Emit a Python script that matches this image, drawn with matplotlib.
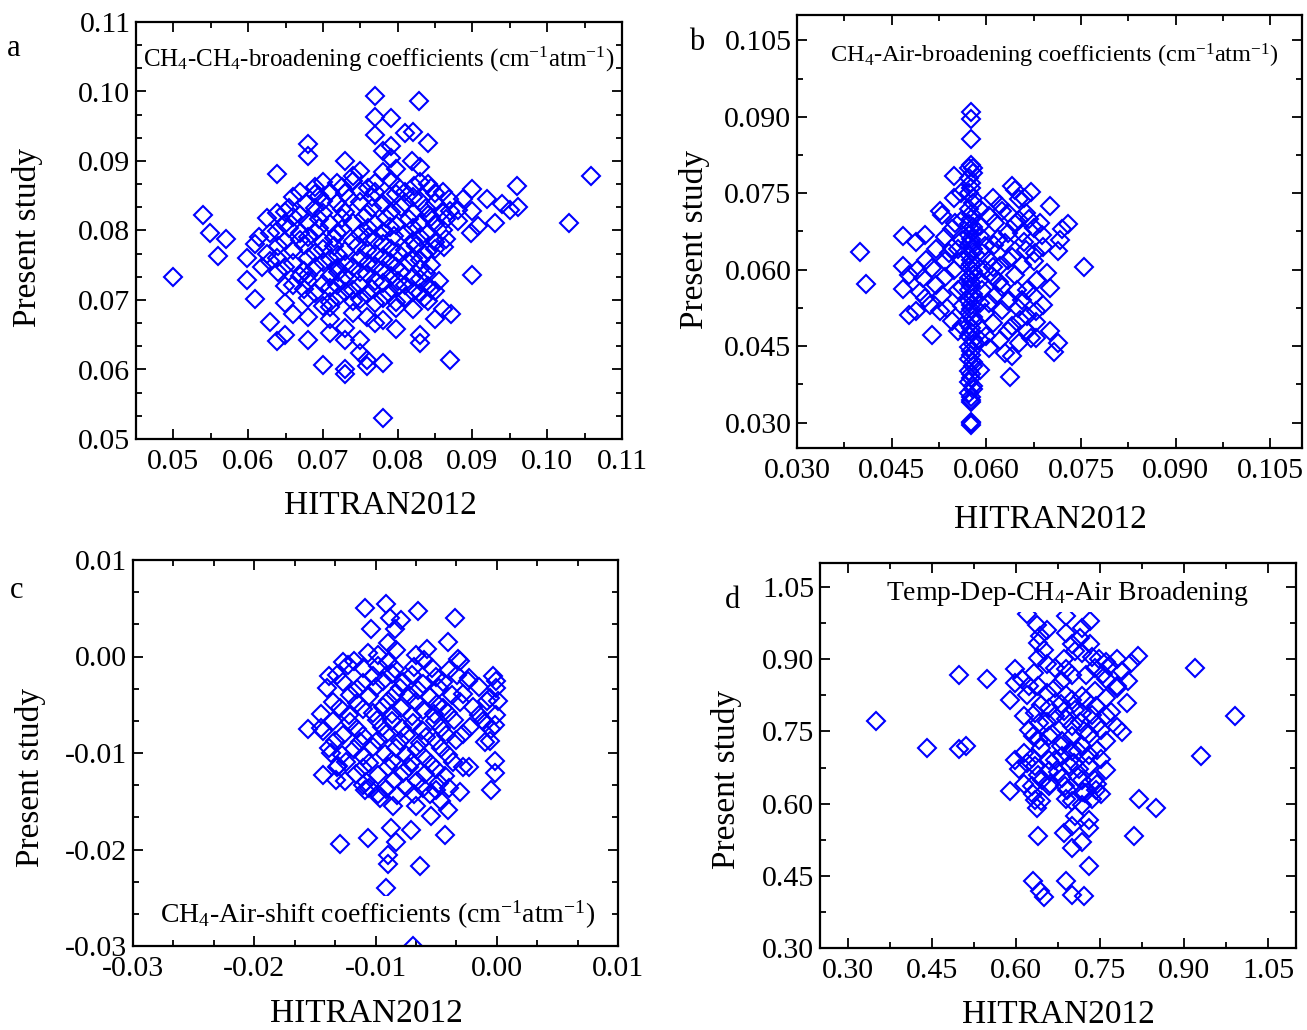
import matplotlib
matplotlib.use("Agg")
import matplotlib.pyplot as plt
from matplotlib.ticker import MultipleLocator, FormatStrFormatter

plt.rcParams['font.family'] = ['Liberation Serif', 'DejaVu Serif']
plt.rcParams['mathtext.fontset'] = 'custom'
plt.rcParams['mathtext.rm'] = 'Liberation Serif'
plt.rcParams['mathtext.it'] = 'Liberation Serif:italic'
plt.rcParams['axes.unicode_minus'] = False

# ---------------- data ----------------
# a: CH4-CH4 broadening, HITRAN2012 vs present study
a_x = [0.0770, 0.0829, 0.0770, 0.0791, 0.0770, 0.0810, 0.0820, 0.0840, 0.0680, 0.0680,
       0.0791, 0.0781, 0.0791, 0.0730, 0.0819, 0.0830, 0.0639, 0.0749, 0.0781, 0.0798,
       0.0740, 0.1059, 0.0959, 0.0899, 0.0919, 0.0888, 0.0939, 0.0950, 0.0961, 0.0899,
       0.0870, 0.0930, 0.0908, 0.0898, 0.0881, 0.1029, 0.0539, 0.0549, 0.0571, 0.0560,
       0.0500, 0.0609, 0.0599, 0.0599, 0.0609, 0.0619, 0.0629, 0.0629, 0.0638, 0.0649,
       0.0680, 0.0680, 0.0660, 0.0649, 0.0649, 0.0700, 0.0730, 0.0730, 0.0759, 0.0759,
       0.0780, 0.0780, 0.0870, 0.0899, 0.0830, 0.0830, 0.0850, 0.0861, 0.0871, 0.0850,
       0.0798, 0.0749, 0.0749, 0.0730, 0.0709, 0.0730, 0.0709, 0.0770, 0.0780, 0.0820,
       0.0798, 0.0759, 0.0740, 0.0700, 0.0709,
       0.0700, 0.0719, 0.0740, 0.0770, 0.0791, 0.0830, 0.0840,
       0.0669, 0.0689, 0.0709, 0.0730, 0.0749, 0.0770, 0.0798, 0.0810, 0.0850, 0.0861,
       0.0677, 0.0700, 0.0719, 0.0749, 0.0780, 0.0810, 0.0830, 0.0850,
       0.0638, 0.0649, 0.0669, 0.0700, 0.0730, 0.0759, 0.0791, 0.0820, 0.0840, 0.0859,
       0.0649, 0.0680, 0.0709, 0.0740, 0.0770, 0.0798, 0.0830, 0.0850,
       0.0629, 0.0639, 0.0669, 0.0689, 0.0719, 0.0749, 0.0780, 0.0810, 0.0840,
       0.0649, 0.0669, 0.0700, 0.0740, 0.0770, 0.0820, 0.0850,
       0.0660, 0.0700, 0.0730, 0.0759, 0.0791, 0.0810, 0.0840, 0.0850,
       0.0639, 0.0680, 0.0709, 0.0749, 0.0780, 0.0820, 0.0830,
       0.0649, 0.0689, 0.0719, 0.0740, 0.0770, 0.0798, 0.0830,
       0.0669, 0.0680, 0.0709, 0.0730, 0.0759, 0.0791, 0.0820,
       0.0660, 0.0700, 0.0719, 0.0749, 0.0780, 0.0810, 0.0840,
       0.0689, 0.0730, 0.0759, 0.0789, 0.0820, 0.0830,
       0.0709, 0.0740, 0.0770, 0.0798, 0.0840,
       0.0690, 0.0725, 0.0760, 0.0800, 0.0822, 0.0845,
       0.0660, 0.0695, 0.0735, 0.0765, 0.0790, 0.0820, 0.0868,
       0.0655, 0.0690, 0.0725, 0.0765, 0.0805, 0.0838, 0.0880,
       0.0625, 0.0660, 0.0695, 0.0725, 0.0755, 0.0785, 0.0815, 0.0845, 0.0865,
       0.0655, 0.0695, 0.0725, 0.0760, 0.0790, 0.0820, 0.0860,
       0.0615, 0.0680, 0.0715, 0.0760, 0.0795, 0.0830, 0.0865,
       0.0640, 0.0675, 0.0715, 0.0745, 0.0780, 0.0825, 0.0862,
       0.0625, 0.0690, 0.0720, 0.0770, 0.0800, 0.0835,
       0.0660, 0.0700, 0.0730, 0.0760, 0.0790, 0.0815, 0.0845,
       0.0640, 0.0675, 0.0720, 0.0750, 0.0780, 0.0805, 0.0838,
       0.0680, 0.0725, 0.0770, 0.0800, 0.0830, 0.0855,
       0.0675, 0.0710, 0.0740, 0.0765, 0.0800, 0.0845,
       0.0680, 0.0720, 0.0750, 0.0780, 0.0810, 0.0835]
a_y = [0.0994, 0.0986, 0.0964, 0.0962, 0.0938, 0.0941, 0.0942, 0.0926, 0.0925, 0.0907,
       0.0922, 0.0915, 0.0905, 0.0900, 0.0900, 0.0892, 0.0882, 0.0886, 0.0884, 0.0888,
       0.0879, 0.0879, 0.0864, 0.0860, 0.0845, 0.0845, 0.0838, 0.0830, 0.0834, 0.0828,
       0.0828, 0.0811, 0.0807, 0.0797, 0.0814, 0.0811, 0.0822, 0.0797, 0.0788, 0.0764,
       0.0733, 0.0781, 0.0760, 0.0729, 0.0702, 0.0747, 0.0756, 0.0669, 0.0641, 0.0649,
       0.0643, 0.0676, 0.0680, 0.0696, 0.0720, 0.0607, 0.0600, 0.0593, 0.0613, 0.0605,
       0.0609, 0.0530, 0.0614, 0.0736, 0.0649, 0.0638, 0.0672, 0.0687, 0.0680, 0.0713,
       0.0658, 0.0624, 0.0643, 0.0643, 0.0653, 0.0660, 0.0672, 0.0667, 0.0671, 0.0687,
       0.0688, 0.0676, 0.0682, 0.0691, 0.0690,
       0.0870, 0.0868, 0.0871, 0.0869, 0.0872, 0.0870, 0.0867,
       0.0855, 0.0853, 0.0856, 0.0854, 0.0857, 0.0855, 0.0853, 0.0856, 0.0854, 0.0855,
       0.0840, 0.0842, 0.0839, 0.0841, 0.0838, 0.0840, 0.0842, 0.0839,
       0.0825, 0.0826, 0.0823, 0.0825, 0.0827, 0.0824, 0.0826, 0.0825, 0.0823, 0.0826,
       0.0810, 0.0812, 0.0809, 0.0811, 0.0810, 0.0808, 0.0811, 0.0810,
       0.0797, 0.0799, 0.0796, 0.0798, 0.0797, 0.0795, 0.0798, 0.0797, 0.0796,
       0.0785, 0.0786, 0.0784, 0.0785, 0.0787, 0.0785, 0.0783,
       0.0772, 0.0773, 0.0771, 0.0772, 0.0774, 0.0772, 0.0770, 0.0773,
       0.0760, 0.0761, 0.0759, 0.0760, 0.0762, 0.0760, 0.0758,
       0.0747, 0.0748, 0.0746, 0.0747, 0.0749, 0.0747, 0.0745,
       0.0735, 0.0736, 0.0734, 0.0735, 0.0737, 0.0735, 0.0733,
       0.0722, 0.0723, 0.0721, 0.0722, 0.0724, 0.0722, 0.0720,
       0.0710, 0.0711, 0.0709, 0.0710, 0.0712, 0.0710,
       0.0697, 0.0698, 0.0696, 0.0697, 0.0699,
       0.0862, 0.0863, 0.0861, 0.0862, 0.0864, 0.0861,
       0.0848, 0.0849, 0.0847, 0.0848, 0.0850, 0.0848, 0.0846,
       0.0832, 0.0833, 0.0831, 0.0832, 0.0834, 0.0832, 0.0830,
       0.0818, 0.0819, 0.0817, 0.0818, 0.0820, 0.0818, 0.0816, 0.0819, 0.0817,
       0.0803, 0.0804, 0.0802, 0.0803, 0.0805, 0.0803, 0.0801,
       0.0790, 0.0791, 0.0789, 0.0790, 0.0792, 0.0790, 0.0788,
       0.0778, 0.0779, 0.0777, 0.0778, 0.0780, 0.0778, 0.0776,
       0.0766, 0.0767, 0.0765, 0.0766, 0.0768, 0.0766,
       0.0753, 0.0754, 0.0752, 0.0753, 0.0755, 0.0753, 0.0751,
       0.0741, 0.0742, 0.0740, 0.0741, 0.0743, 0.0741, 0.0739,
       0.0728, 0.0729, 0.0727, 0.0728, 0.0730, 0.0728,
       0.0716, 0.0717, 0.0715, 0.0716, 0.0718, 0.0716,
       0.0703, 0.0704, 0.0702, 0.0703, 0.0705, 0.0703]

# b: CH4-Air broadening
b_x = [0.0576, 0.0576, 0.0576, 0.0576, 0.0573, 0.0579, 0.0576, 0.0573, 0.0579, 0.0576,
       0.0573, 0.0579, 0.0576, 0.0573, 0.0579, 0.0576, 0.0573, 0.0579, 0.0576, 0.0573,
       0.0579, 0.0576, 0.0573, 0.0579, 0.0576, 0.0573, 0.0579, 0.0576, 0.0573, 0.0579,
       0.0576, 0.0573, 0.0579, 0.0576, 0.0576, 0.0576, 0.0576,
       0.0579, 0.0573, 0.0576, 0.0579, 0.0573, 0.0576, 0.0579, 0.0573, 0.0576, 0.0579,
       0.0573, 0.0576, 0.0579, 0.0573, 0.0576, 0.0579, 0.0573, 0.0576, 0.0579, 0.0573,
       0.0576, 0.0579, 0.0573, 0.0576, 0.0579, 0.0573, 0.0576, 0.0579, 0.0573, 0.0576,
       0.0576,
       0.0400, 0.0410, 0.0468, 0.0488, 0.0502, 0.0468, 0.0478, 0.0468, 0.0477, 0.0489,
       0.0499, 0.0514, 0.0495, 0.0503, 0.0514, 0.0527, 0.0538, 0.0530, 0.0527, 0.0530,
       0.0548, 0.0548, 0.0551, 0.0546, 0.0548, 0.0540, 0.0535,
       0.0604, 0.0614, 0.0622, 0.0635, 0.0640, 0.0646, 0.0671, 0.0651, 0.0662, 0.0651,
       0.0635, 0.0612, 0.0630, 0.0656, 0.0675, 0.0685, 0.0688, 0.0677, 0.0663, 0.0656,
       0.0696, 0.0713, 0.0717, 0.0730, 0.0754, 0.0598, 0.0609, 0.0625, 0.0649, 0.0635,
       0.0656, 0.0675, 0.0625, 0.0598, 0.0678, 0.0654, 0.0678, 0.0664, 0.0635, 0.0678,
       0.0622, 0.0651, 0.0604, 0.0630, 0.0641, 0.0714, 0.0707, 0.0638, 0.0598, 0.0604,
       0.0622, 0.0635, 0.0593, 0.0604, 0.0593, 0.0590, 0.0593,
       0.0562, 0.0562, 0.0562, 0.0562, 0.0562, 0.0562,
       0.0590, 0.0590, 0.0590, 0.0590, 0.0590,
       0.0618, 0.0645, 0.0668, 0.0625, 0.0660, 0.0690, 0.0640, 0.0675, 0.0610, 0.0645,
       0.0680, 0.0620, 0.0665, 0.0700, 0.0615, 0.0650, 0.0690, 0.0610, 0.0665, 0.0600,
       0.0640, 0.0670, 0.0700, 0.0660, 0.0700, 0.0720, 0.0610, 0.0590,
       0.0520, 0.0505, 0.0535, 0.0555, 0.0520, 0.0555, 0.0545, 0.0560, 0.0535, 0.0490,
       0.0510, 0.0545, 0.0555]
b_y = [0.0909, 0.0895, 0.0857, 0.0806, 0.0800, 0.0790, 0.0770, 0.0750, 0.0730, 0.0710,
       0.0690, 0.0675, 0.0660, 0.0648, 0.0635, 0.0620, 0.0605, 0.0590, 0.0575, 0.0560,
       0.0545, 0.0530, 0.0515, 0.0500, 0.0485, 0.0470, 0.0455, 0.0440, 0.0425, 0.0410,
       0.0395, 0.0380, 0.0365, 0.0350, 0.0340, 0.0300, 0.0295,
       0.0800, 0.0780, 0.0760, 0.0740, 0.0720, 0.0700, 0.0683, 0.0668, 0.0654, 0.0641,
       0.0628, 0.0612, 0.0598, 0.0583, 0.0568, 0.0552, 0.0538, 0.0522, 0.0508, 0.0492,
       0.0478, 0.0462, 0.0448, 0.0432, 0.0418, 0.0402, 0.0388, 0.0372, 0.0358, 0.0345,
       0.0302,
       0.0634, 0.0571, 0.0667, 0.0654, 0.0669, 0.0607, 0.0590, 0.0562, 0.0512, 0.0518,
       0.0584, 0.0603, 0.0557, 0.0544, 0.0472, 0.0518, 0.0525, 0.0551, 0.0715, 0.0708,
       0.0783, 0.0741, 0.0692, 0.0643, 0.0600, 0.0633, 0.0618,
       0.0705, 0.0692, 0.0728, 0.0711, 0.0764, 0.0757, 0.0752, 0.0738, 0.0711, 0.0698,
       0.0672, 0.0649, 0.0652, 0.0672, 0.0682, 0.0692, 0.0669, 0.0633, 0.0639, 0.0610,
       0.0593, 0.0636, 0.0659, 0.0690, 0.0605, 0.0600, 0.0587, 0.0567, 0.0561, 0.0538,
       0.0541, 0.0548, 0.0521, 0.0515, 0.0518, 0.0502, 0.0498, 0.0479, 0.0479, 0.0466,
       0.0462, 0.0456, 0.0446, 0.0436, 0.0430, 0.0457, 0.0438, 0.0389, 0.0646, 0.0620,
       0.0607, 0.0620, 0.0561, 0.0534, 0.0482, 0.0685, 0.0633,
       0.0698, 0.0659, 0.0620, 0.0567, 0.0528, 0.0489,
       0.0666, 0.0580, 0.0534, 0.0462, 0.0403,
       0.0660, 0.0690, 0.0700, 0.0715, 0.0655, 0.0645, 0.0625, 0.0618, 0.0605, 0.0590,
       0.0580, 0.0575, 0.0560, 0.0565, 0.0550, 0.0525, 0.0530, 0.0495, 0.0510, 0.0470,
       0.0490, 0.0465, 0.0480, 0.0740, 0.0725, 0.0680, 0.0740, 0.0720,
       0.0640, 0.0620, 0.0585, 0.0560, 0.0570, 0.0640, 0.0680, 0.0750, 0.0665, 0.0600,
       0.0530, 0.0500, 0.0480]

# c: CH4-Air shift
c_x = [-0.01086, -0.00915, -0.00646, -0.00346, -0.01034, -0.00841, -0.00786, -0.00882,
       -0.00401, -0.00572, -0.00319, -0.01267, -0.01226, -0.01383, -0.01061, -0.00979,
       -0.00827, -0.00896, -0.00663, -0.00228, -0.00030, -0.00003, -0.00003, 0.00011,
       -0.00003, -0.00016, -0.00099, -0.00058, -0.00016, -0.00016, -0.00044, -0.00228,
       -0.00058, -0.01556, -0.01432, -0.01437, -0.01322, -0.01309, -0.01364, -0.01295,
       -0.01061, -0.00869, -0.00704, -0.00429, -0.00827, -0.00896, -0.00896, -0.00630,
       -0.00910, -0.00690, -0.00539, -0.00401, -0.00305, -0.00456, -0.00663, -0.00855,
       -0.00965, -0.01089, -0.01102,
       -0.0110, -0.0098, -0.0084, -0.0068, -0.0053, -0.0039,
       -0.0127, -0.0110, -0.0094, -0.0077, -0.0061, -0.0044, -0.0024,
       -0.0121, -0.0105, -0.0084, -0.0072, -0.0055, -0.0037, -0.0028,
       -0.0129, -0.0110, -0.0094, -0.0079, -0.0061, -0.0044, -0.0020,
       -0.0135, -0.0121, -0.0099, -0.0086, -0.0069, -0.0051, -0.0035, -0.0011,
       -0.0127, -0.0110, -0.0091, -0.0075, -0.0058, -0.0042, -0.0028,
       -0.0138, -0.0118, -0.0102, -0.0083, -0.0066, -0.0046,
       -0.0124, -0.0105, -0.0086, -0.0070, -0.0054, -0.0036,
       -0.0116, -0.0098, -0.0077, -0.0059, -0.0043,
       -0.0105, -0.0091, -0.0075, -0.0061, -0.0050, -0.0039,
       -0.0118, -0.0090, -0.0060, -0.0030,
       -0.0132, -0.0102, -0.0086, -0.0070, -0.0050, -0.0033,
       -0.0140, -0.0115, -0.0100, -0.0080, -0.0065, -0.0048, -0.0015,
       -0.0135, -0.0115, -0.0090, -0.0067, -0.0049, -0.0030, -0.0008,
       -0.0145, -0.0122, -0.0102, -0.0086, -0.0070, -0.0052, -0.0040, -0.0015,
       -0.0145, -0.0115, -0.0095, -0.0078, -0.0062, -0.0046, -0.0022, -0.0005,
       -0.0133, -0.0113, -0.0098, -0.0080, -0.0063, -0.0050, -0.0034, -0.0010,
       -0.0128, -0.0110, -0.0092, -0.0075, -0.0060, -0.0040,
       -0.0132, -0.0110, -0.0090, -0.0072, -0.0050, -0.0028,
       -0.0125, -0.0108, -0.0085, -0.0066, -0.0048,
       -0.0098, -0.0082, -0.0068, -0.0055]
c_y = [0.00507, 0.00541, 0.00472, 0.00397, 0.00286, 0.00286, 0.00379, 0.00397,
       0.00155, 0.00079, -0.00024, -0.00052, -0.00086, -0.00197, 0.00034, 0.00017,
       0.00069, 0.00138, 0.00017, -0.00224, -0.00207, -0.00259, -0.00328, -0.00466,
       -0.00603, -0.00707, -0.00690, -0.00879, -0.01086, -0.01207, -0.01379, -0.01145,
       -0.00431, -0.00748, -0.00776, -0.01224, -0.01276, -0.01138, -0.01000, -0.01948,
       -0.01879, -0.01776, -0.01793, -0.01845, -0.01921, -0.02052, -0.02155, -0.02172,
       -0.02397, -0.03000, -0.01655, -0.01586, -0.01403, -0.01500, -0.01552, -0.01552,
       -0.01466, -0.01379, -0.01328,
       -0.0012, -0.0010, -0.0013, -0.0011, -0.0012, -0.0014,
       -0.0026, -0.0027, -0.0025, -0.0026, -0.0028, -0.0026, -0.0025,
       -0.0040, -0.0041, -0.0039, -0.0040, -0.0042, -0.0040, -0.0039,
       -0.0053, -0.0054, -0.0052, -0.0053, -0.0055, -0.0053, -0.0052,
       -0.0067, -0.0068, -0.0066, -0.0067, -0.0069, -0.0067, -0.0066, -0.0067,
       -0.0081, -0.0082, -0.0080, -0.0081, -0.0083, -0.0081, -0.0080,
       -0.0095, -0.0096, -0.0094, -0.0095, -0.0097, -0.0095,
       -0.0109, -0.0110, -0.0108, -0.0109, -0.0111, -0.0109,
       -0.0122, -0.0123, -0.0121, -0.0122, -0.0124,
       -0.0136, -0.0137, -0.0135, -0.0136, -0.0138, -0.0136,
       -0.0005, -0.0006, -0.0004, -0.0005,
       -0.0019, -0.0020, -0.0018, -0.0019, -0.0021, -0.0019,
       -0.0033, -0.0034, -0.0032, -0.0033, -0.0035, -0.0033, -0.0032,
       -0.0047, -0.0048, -0.0046, -0.0047, -0.0049, -0.0047, -0.0046,
       -0.0060, -0.0061, -0.0059, -0.0060, -0.0062, -0.0060, -0.0059, -0.0061,
       -0.0074, -0.0075, -0.0073, -0.0074, -0.0076, -0.0074, -0.0073, -0.0075,
       -0.0088, -0.0089, -0.0087, -0.0088, -0.0090, -0.0088, -0.0087, -0.0089,
       -0.0102, -0.0103, -0.0101, -0.0102, -0.0104, -0.0102,
       -0.0115, -0.0116, -0.0114, -0.0115, -0.0117, -0.0115,
       -0.0129, -0.0130, -0.0128, -0.0129, -0.0131,
       -0.0143, -0.0144, -0.0142, -0.0143]

# d: temperature dependence exponent of CH4-Air broadening
d_x = [0.3495, 0.4402, 0.4987, 0.5106, 0.4987, 0.5488, 0.9200, 0.9915, 0.9300, 0.8197,
       0.8495, 0.8107, 0.8185, 0.7988, 0.7899, 0.8006, 0.7810, 0.7810, 0.7600, 0.7510,
       0.7510, 0.7410, 0.7300, 0.7300, 0.7300, 0.7180, 0.7000, 0.7000, 0.7210, 0.6900,
       0.6496, 0.6420, 0.6300, 0.6395, 0.5900, 0.6377, 0.6300, 0.6914, 0.7000, 0.7180,
       0.6850, 0.7000, 0.5900, 0.5990, 0.5990,
       0.6198, 0.6897, 0.7330, 0.7180, 0.6380, 0.6420, 0.6400, 0.7000, 0.7330, 0.7180,
       0.6850, 0.6400, 0.6705, 0.7480, 0.7660, 0.8050, 0.7410, 0.7000, 0.6318, 0.6110,
       0.6230, 0.6400, 0.6705, 0.6825, 0.7410, 0.7600, 0.7810, 0.7000, 0.7180, 0.7420,
       0.6586, 0.6347, 0.6138, 0.6407, 0.6705, 0.6855, 0.7180, 0.7000, 0.7213, 0.7510,
       0.6230, 0.6407, 0.6586, 0.6825, 0.7180, 0.7300, 0.7000, 0.6825, 0.6586, 0.6288,
       0.6138, 0.6050, 0.6347, 0.6586, 0.7030, 0.7120, 0.6825, 0.6467, 0.6288, 0.6586,
       0.6880, 0.7420, 0.7240, 0.6347, 0.7180, 0.5990,
       0.655, 0.690, 0.715, 0.650, 0.705, 0.735, 0.760, 0.655, 0.690, 0.725,
       0.755, 0.790, 0.620, 0.655, 0.690, 0.725, 0.760, 0.645, 0.680, 0.705,
       0.735, 0.770, 0.655, 0.690, 0.715, 0.745, 0.780, 0.630, 0.665, 0.700,
       0.730, 0.760, 0.645, 0.680, 0.710, 0.745, 0.620, 0.670, 0.695, 0.730,
       0.760, 0.640, 0.675, 0.710, 0.745, 0.615, 0.660, 0.690, 0.720, 0.705,
       0.735, 0.645]
d_y = [0.772, 0.7166, 0.7138, 0.7207, 0.867, 0.858, 0.882, 0.782, 0.700, 0.610,
       0.591, 0.532, 0.9065, 0.8095, 0.7485, 0.8545, 0.900, 0.844, 0.782, 0.692,
       0.619, 0.650, 0.567, 0.5495, 0.470, 0.5197, 0.508, 0.411, 0.409, 0.439,
       0.407, 0.418, 0.439, 0.532, 0.627, 0.591, 0.619, 0.629, 0.605, 0.598,
       0.539, 0.553, 0.816, 0.879, 0.851,
       0.993, 0.990, 0.979, 0.965, 0.972, 0.948, 0.934, 0.931, 0.931, 0.913,
       0.900, 0.903, 0.882, 0.900, 0.886, 0.893, 0.882, 0.868, 0.872, 0.858,
       0.844, 0.844, 0.841, 0.8545, 0.834, 0.858, 0.841, 0.816, 0.823, 0.8025,
       0.799, 0.7887, 0.782, 0.768, 0.782, 0.792, 0.7887, 0.761, 0.7505, 0.754,
       0.754, 0.733, 0.740, 0.7298, 0.719, 0.702, 0.709, 0.6986, 0.6916, 0.695,
       0.7055, 0.671, 0.678, 0.667, 0.6847, 0.671, 0.6535, 0.650, 0.636, 0.636,
       0.636, 0.629, 0.622, 0.6085, 0.650, 0.6916,
       0.960, 0.955, 0.945, 0.920, 0.918, 0.905, 0.895, 0.890, 0.880, 0.868,
       0.870, 0.875, 0.825, 0.830, 0.825, 0.815, 0.820, 0.805, 0.808, 0.795,
       0.785, 0.790, 0.770, 0.775, 0.770, 0.765, 0.760, 0.740, 0.745, 0.740,
       0.745, 0.730, 0.715, 0.720, 0.710, 0.712, 0.685, 0.690, 0.680, 0.678,
       0.670, 0.660, 0.665, 0.655, 0.640, 0.640, 0.640, 0.610, 0.625, 0.575,
       0.610, 0.605]

W, H = 1307, 1030
fig = plt.figure(figsize=(W / 100, H / 100), dpi=100)


def box(l, t, r, b):
    return [l / W, 1 - b / H, (r - l) / W, (b - t) / H]


def fx(x):
    return x / W


def fy(y):
    return 1 - y / H


def style(ax, xlim, ylim, xmaj, xmin, ymaj, ymin, xfmt, yfmt):
    ax.set_xlim(*xlim)
    ax.set_ylim(*ylim)
    ax.xaxis.set_major_locator(MultipleLocator(xmaj))
    ax.xaxis.set_minor_locator(MultipleLocator(xmin))
    ax.yaxis.set_major_locator(MultipleLocator(ymaj))
    ax.yaxis.set_minor_locator(MultipleLocator(ymin))
    ax.xaxis.set_major_formatter(FormatStrFormatter(xfmt))
    ax.yaxis.set_major_formatter(FormatStrFormatter(yfmt))
    ax.tick_params(which='both', direction='in', top=True, right=True, width=1.3,
                   labelsize=21.5)
    ax.tick_params(which='major', length=7)
    ax.tick_params(which='minor', length=4)
    ax.tick_params(axis='x', which='both', pad=7)
    ax.tick_params(axis='y', which='both', pad=4)
    for s in ax.spines.values():
        s.set_linewidth(1.6)


def points(ax, x, y):
    ax.plot(x, y, linestyle='none', marker='D', markersize=9.2, markeredgewidth=1.5,
            markerfacecolor='none', markeredgecolor='#0000FF', clip_on=True, zorder=2)


def note(ax, x, y, s, size, pad=1.0):
    ax.text(fx(x), fy(y), s, transform=fig.transFigure, fontsize=size, ha='left',
            va='baseline', zorder=5,
            bbox=dict(facecolor='white', edgecolor='none', pad=pad))


ax_a = fig.add_axes(box(136, 22, 622, 439))
points(ax_a, a_x, a_y)
style(ax_a, (0.045, 0.11), (0.05, 0.11), 0.01, 0.005, 0.01, 0.01 / 3, '%.2f', '%.2f')
note(ax_a, 143, 67, r'CH$_4$-CH$_4$-broadening coefficients (cm$^{-1}$atm$^{-1}$)', 18)

ax_b = fig.add_axes(box(797, 15, 1302, 448))
points(ax_b, b_x, b_y)
style(ax_b, (0.03, 0.11), (0.025, 0.11), 0.015, 0.0075, 0.015, 0.0075, '%.3f', '%.3f')
note(ax_b, 830, 62, r'CH$_4$-Air-broadening coefficients (cm$^{-1}$atm$^{-1}$)', 17.6)

ax_c = fig.add_axes(box(133, 560, 618, 946))
points(ax_c, c_x, c_y)
style(ax_c, (-0.03, 0.01), (-0.03, 0.01), 0.01, 0.01 / 3, 0.01, 0.01 / 3, '%.2f', '%.2f')
note(ax_c, 160, 923, r'CH$_4$-Air-shift coefficients (cm$^{-1}$atm$^{-1}$)', 20, pad=2.0)

ax_d = fig.add_axes(box(820, 563, 1296, 948))
points(ax_d, d_x, d_y)
style(ax_d, (0.25, 1.10), (0.30, 1.10), 0.15, 0.075, 0.15, 0.075, '%.2f', '%.2f')
note(ax_d, 886, 600, r'Temp-Dep-CH$_4$-Air Broadening', 20, pad=3.0)

# panel letters and axis titles
for lab, x, y in [('a', 14, 48), ('b', 697, 42), ('c', 17, 590), ('d', 732, 600)]:
    fig.text(fx(x), fy(y), lab, fontsize=22, ha='center', va='center')
for x, y in [(380, 514), (1050, 528), (366, 1022), (1058, 1023)]:
    fig.text(fx(x), fy(y), 'HITRAN2012', fontsize=24, ha='center', va='baseline')
for x, y in [(28, 237), (694, 239), (30, 777), (727, 779)]:
    fig.text(fx(x), fy(y), 'Present study', fontsize=24, ha='center', va='center',
             rotation=90)

fig.savefig('out.png', dpi=100)
